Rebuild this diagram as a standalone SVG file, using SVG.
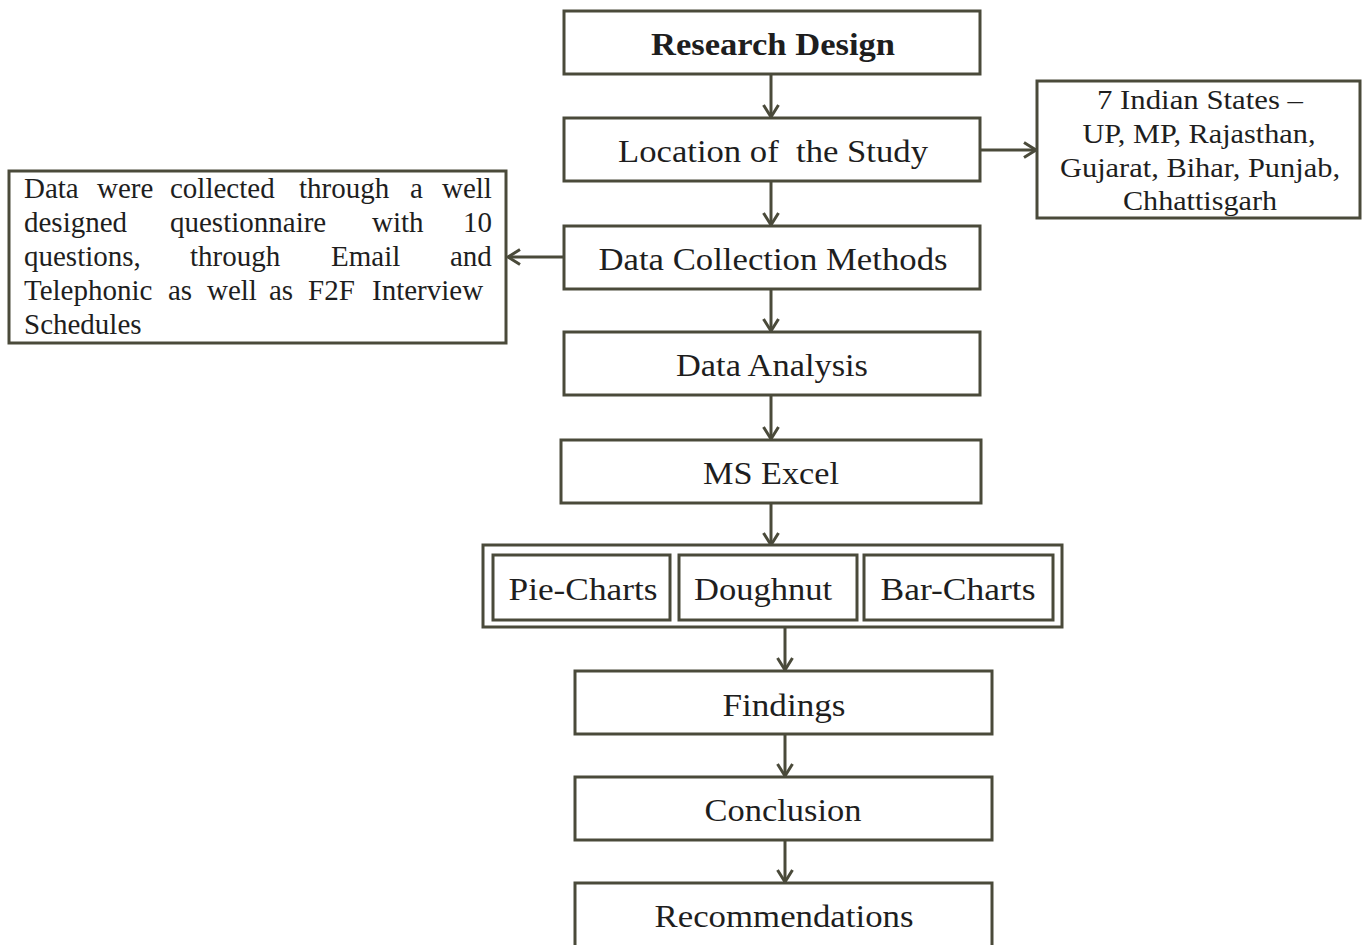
<svg xmlns="http://www.w3.org/2000/svg" width="1362" height="945" viewBox="0 0 1362 945">
<style>
.box{fill:#fff;stroke:#4a4a3a;stroke-width:3}
.t{font-family:"Liberation Serif","Times New Roman",serif;fill:#1e1e1e;font-size:31px;text-anchor:middle}
.b{font-weight:bold}
.s{font-family:"Liberation Serif","Times New Roman",serif;fill:#1e1e1e;font-size:27px}
.n{font-family:"Liberation Serif","Times New Roman",serif;fill:#1e1e1e;font-size:29px}
.c{text-anchor:middle}
.conn line{stroke:#4a4a3a;stroke-width:3;fill:none}
</style>
<defs>
<marker id="ah" markerUnits="userSpaceOnUse" markerWidth="18" markerHeight="18" refX="14" refY="9" orient="auto">
<path d="M2,1.5 L14,9 L2,16.5" fill="none" stroke="#4a4a3a" stroke-width="3"/>
</marker>
</defs>
<rect width="1362" height="945" fill="#fff"/>
<g class="conn">
<line x1="771" y1="74" x2="771" y2="117" marker-end="url(#ah)"/>
<line x1="771" y1="181" x2="771" y2="225" marker-end="url(#ah)"/>
<line x1="771" y1="289" x2="771" y2="331" marker-end="url(#ah)"/>
<line x1="771" y1="395" x2="771" y2="439" marker-end="url(#ah)"/>
<line x1="771" y1="503" x2="771" y2="545" marker-end="url(#ah)"/>
<line x1="785" y1="627" x2="785" y2="670" marker-end="url(#ah)"/>
<line x1="785" y1="734" x2="785" y2="776" marker-end="url(#ah)"/>
<line x1="785" y1="840" x2="785" y2="882" marker-end="url(#ah)"/>
<line x1="980" y1="150" x2="1036" y2="150" marker-end="url(#ah)"/>
<line x1="564" y1="257" x2="508" y2="257" marker-end="url(#ah)"/>
</g>
<g id="research-design">
<rect class="box" x="564" y="11" width="416" height="63"/>
<text class="t b" x="773" y="55" textLength="244" lengthAdjust="spacingAndGlyphs">Research Design</text>
</g>
<g id="location">
<rect class="box" x="564" y="118" width="416" height="63"/>
<text class="t" x="773" y="162" textLength="310" lengthAdjust="spacingAndGlyphs">Location of&#160; the Study</text>
</g>
<g id="states">
<rect class="box" x="1037" y="81" width="323" height="137"/>
<text class="s c" x="1200" y="109" textLength="206" lengthAdjust="spacingAndGlyphs">7 Indian States –</text>
<text class="s c" x="1199" y="143" textLength="233" lengthAdjust="spacingAndGlyphs">UP, MP, Rajasthan,</text>
<text class="s c" x="1200" y="177" textLength="280" lengthAdjust="spacingAndGlyphs">Gujarat, Bihar, Punjab,</text>
<text class="s c" x="1200" y="210" textLength="154" lengthAdjust="spacingAndGlyphs">Chhattisgarh</text>
</g>
<g id="data-collection">
<rect class="box" x="564" y="226" width="416" height="63"/>
<text class="t" x="773" y="270" textLength="349" lengthAdjust="spacingAndGlyphs">Data Collection Methods</text>
</g>
<g id="collection-note">
<rect class="box" x="9" y="171" width="497" height="172"/>
<text class="n" y="198"><tspan x="24">Data</tspan><tspan x="97">were</tspan><tspan x="170">collected</tspan><tspan x="299">through</tspan><tspan x="410">a</tspan><tspan x="442">well</tspan></text>
<text class="n" y="232"><tspan x="24">designed</tspan><tspan x="170">questionnaire</tspan><tspan x="372">with</tspan><tspan x="463">10</tspan></text>
<text class="n" y="266"><tspan x="24">questions,</tspan><tspan x="190">through</tspan><tspan x="331">Email</tspan><tspan x="450">and</tspan></text>
<text class="n" y="300"><tspan x="24">Telephonic</tspan><tspan x="168">as</tspan><tspan x="207">well</tspan><tspan x="269">as</tspan><tspan x="308">F2F</tspan><tspan x="372">Interview</tspan></text>
<text class="n" y="334"><tspan x="24">Schedules</tspan></text>
</g>
<g id="data-analysis">
<rect class="box" x="564" y="332" width="416" height="63"/>
<text class="t" x="772" y="376" textLength="192" lengthAdjust="spacingAndGlyphs">Data Analysis</text>
</g>
<g id="ms-excel">
<rect class="box" x="561" y="440" width="420" height="63"/>
<text class="t" x="771" y="484" textLength="136" lengthAdjust="spacingAndGlyphs">MS Excel</text>
</g>
<g id="charts">
<rect class="box" x="483" y="545" width="579" height="82"/>
<g id="pie-charts">
<rect class="box" x="493" y="555" width="177" height="65"/>
<text class="t" x="583" y="600" textLength="149" lengthAdjust="spacingAndGlyphs">Pie-Charts</text>
</g>
<g id="doughnut">
<rect class="box" x="679" y="555" width="178" height="65"/>
<text class="t" x="763" y="600" textLength="138" lengthAdjust="spacingAndGlyphs">Doughnut</text>
</g>
<g id="bar-charts">
<rect class="box" x="864" y="555" width="189" height="65"/>
<text class="t" x="958" y="600" textLength="155" lengthAdjust="spacingAndGlyphs">Bar-Charts</text>
</g>
</g>
<g id="findings">
<rect class="box" x="575" y="671" width="417" height="63"/>
<text class="t" x="784" y="716" textLength="123" lengthAdjust="spacingAndGlyphs">Findings</text>
</g>
<g id="conclusion">
<rect class="box" x="575" y="777" width="417" height="63"/>
<text class="t" x="783" y="821" textLength="157" lengthAdjust="spacingAndGlyphs">Conclusion</text>
</g>
<g id="recommendations">
<rect class="box" x="575" y="883" width="417" height="66"/>
<text class="t" x="784" y="927" textLength="259" lengthAdjust="spacingAndGlyphs">Recommendations</text>
</g>
</svg>
